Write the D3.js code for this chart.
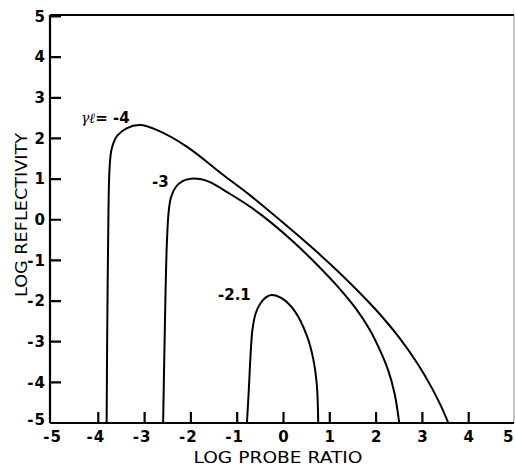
<!DOCTYPE html>
<meta charset="utf-8">
<body style="margin:0;background:#fff">
<style>
  .curve { fill: none; stroke: #000; stroke-width: 2px; stroke-linejoin: round; }
  .tick text { font-family: "DejaVu Sans", sans-serif; font-size: 15px; font-weight: bold; letter-spacing: 1px; fill: #000; }
  .lbl { font-family: "DejaVu Sans", sans-serif; font-size: 15px; fill: #000; }
</style>
<script src="https://d3js.org/d3.v7.min.js"></script>
<script>
var width = 515, height = 473;

var xTicks = [-5, -4, -3, -2, -1, 0, 1, 2, 3, 4, 5];
var yTicks = [-5, -4, -3, -2, -1, 0, 1, 2, 3, 4, 5];

// gamma*l = -4
var curveA = [
  [-3.82, -5.00], [-3.81, -3.20], [-3.78, 0.24], [-3.76, 1.20], [-3.72, 1.70],
  [-3.66, 1.93], [-3.58, 2.08], [-3.39, 2.25], [-3.10, 2.33], [-2.74, 2.21],
  [-2.09, 1.80], [-1.30, 1.10], [-0.72, 0.60], [0.00, -0.08], [0.72, -0.79],
  [1.44, -1.56], [2.00, -2.22], [2.50, -2.90], [2.90, -3.55], [3.20, -4.13],
  [3.40, -4.58], [3.56, -5.00]
];
// gamma*l = -3
var curveB = [
  [-2.60, -5.00], [-2.56, -2.50], [-2.52, -0.60], [-2.48, 0.20], [-2.43, 0.55],
  [-2.33, 0.80], [-2.18, 0.95], [-2.00, 1.01], [-1.80, 1.00], [-1.60, 0.93],
  [-1.16, 0.64], [-0.72, 0.32], [-0.30, -0.04], [0.20, -0.53], [0.72, -1.10],
  [1.20, -1.68], [1.56, -2.18], [1.85, -2.68], [2.08, -3.20], [2.26, -3.70],
  [2.40, -4.28], [2.50, -5.00]
];
// gamma*l = -2.1
var curveC = [
  [-0.79, -5.00], [-0.75, -4.20], [-0.71, -3.30], [-0.67, -2.70], [-0.60, -2.30],
  [-0.50, -2.06], [-0.38, -1.91], [-0.26, -1.85], [-0.04, -1.93], [0.25, -2.26],
  [0.50, -2.84], [0.64, -3.41], [0.72, -4.07], [0.75, -5.00]
];

var x = d3.scaleLinear().domain([-5, 5]).range([52, 515]);
var y = d3.scaleLinear().domain([-5, 5]).range([423, 16.5]);

var svg = d3.select("body").append("svg")
  .attr("width", width)
  .attr("height", height);

// frame
svg.append("line").attr("x1", 50).attr("x2", 514).attr("y1", 15).attr("y2", 15)
  .attr("stroke", "#000").attr("stroke-width", 2);
svg.append("line").attr("x1", 514).attr("x2", 514).attr("y1", 15).attr("y2", 423)
  .attr("stroke", "#888").attr("stroke-width", 1);

var fmt = function(d) { return d < 0 ? "-" + Math.abs(d) : d; };

// axis line plus inward ticks drawn as one path
var xPath = "M50,0H514" + xTicks.filter(function(d) { return d > -5 && d < 5; })
  .map(function(d) { return "M" + x(d) + ",0V-11"; }).join("");
var yPath = "M0,15V423" + yTicks.filter(function(d) { return d > -5; })
  .map(function(d) { return "M0," + y(d) + "H11"; }).join("");

var xAxis = svg.append("g")
  .attr("transform", "translate(0," + y(-5) + ")")
  .call(d3.axisBottom(x).tickValues(xTicks).tickSize(0).tickFormat(fmt));
xAxis.select(".domain").attr("d", xPath).attr("fill", "none")
  .attr("stroke", "#000").attr("stroke-width", 2.2);
xAxis.selectAll(".tick text").attr("y", 5).attr("dy", "0.9em")
  .attr("dx", function(d) { return d < 0 && d > -5 ? -3 : 0; });
xAxis.selectAll(".tick text").filter(function(d) { return d === 5; })
  .attr("text-anchor", "end").attr("x", -1);

var yAxis = svg.append("g")
  .attr("transform", "translate(50,0)")
  .call(d3.axisLeft(y).tickValues(yTicks).tickSize(0).tickFormat(fmt));
yAxis.select(".domain").attr("d", yPath).attr("fill", "none")
  .attr("stroke", "#000").attr("stroke-width", 2.2);
yAxis.selectAll(".tick text").attr("x", -4)
  .attr("dy", function(d) { return d === -5 ? "0.1em" : "0.32em"; });

var line = d3.line()
  .x(function(d) { return x(d[0]); })
  .y(function(d) { return y(d[1]); })
  .curve(d3.curveCatmullRom.alpha(0.5));

[curveA, curveB, curveC].forEach(function(c) {
  svg.append("path").attr("class", "curve").attr("d", line(c));
});

// curve labels
var g1 = svg.append("text").attr("class", "lbl").attr("x", 81).attr("y", 123);
g1.append("tspan").attr("font-family", "DejaVu Serif").attr("font-style", "italic")
  .attr("font-size", 14).text("γℓ");
g1.append("tspan").attr("font-size", 15).attr("font-weight", "bold").text("= -4");
svg.append("text").attr("class", "lbl").attr("x", 152).attr("y", 187)
  .attr("font-weight", "bold").text("-3");
svg.append("text").attr("class", "lbl").attr("x", 218).attr("y", 300)
  .attr("font-weight", "bold").text("-2.1");

// axis titles
svg.append("text").attr("class", "lbl")
  .attr("text-anchor", "middle")
  .attr("transform", "translate(27,215) rotate(-90)")
  .attr("textLength", 164).attr("lengthAdjust", "spacingAndGlyphs")
  .text("LOG REFLECTIVITY");
svg.append("text").attr("class", "lbl")
  .attr("text-anchor", "middle")
  .attr("x", 278).attr("y", 463)
  .attr("textLength", 169).attr("lengthAdjust", "spacingAndGlyphs")
  .text("LOG PROBE RATIO");
</script>
</body>
